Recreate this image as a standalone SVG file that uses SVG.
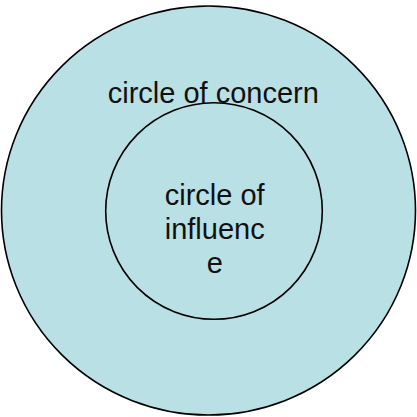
<svg xmlns="http://www.w3.org/2000/svg" width="417" height="417" viewBox="0 0 417 417">
  <style>
    .circ { fill: #b9e0e4; stroke: #000; stroke-width: 1.6; }
    .lbl { font-family: "Liberation Sans", Arial, sans-serif; font-size: 29px; fill: #111; text-anchor: middle; }
  </style>
  <rect width="417" height="417" fill="#fff"/>
  <g id="circle-of-concern">
    <ellipse class="circ" cx="208.5" cy="210.5" rx="207" ry="204.5"/>
  </g>
  <g id="circle-of-influence">
    <circle class="circ" cx="214" cy="211" r="108.3"/>
    <text class="lbl" x="214.7" y="205">circle of</text>
    <text class="lbl" x="214.7" y="239">influenc</text>
    <text class="lbl" x="214.7" y="273">e</text>
  </g>
  <g id="concern-label">
    <text class="lbl" x="213.3" y="103">circle of concern</text>
  </g>
  <g id="connectors"/>
</svg>
